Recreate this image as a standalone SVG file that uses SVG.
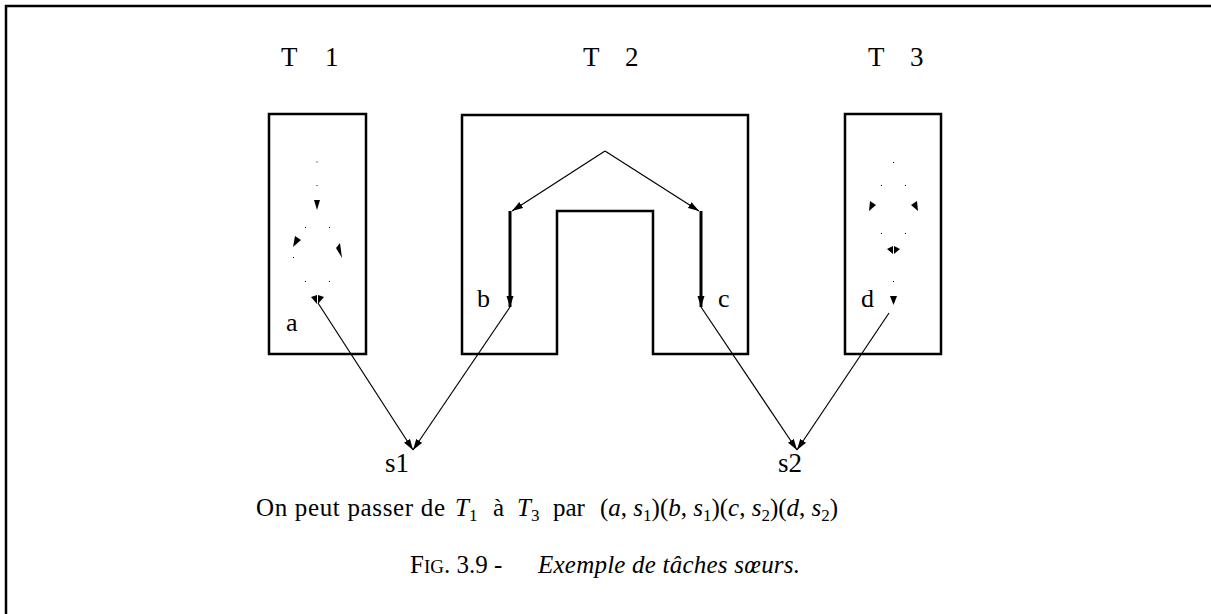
<svg xmlns="http://www.w3.org/2000/svg" width="1211" height="614" viewBox="0 0 1211 614">
<style>
.box{fill:none;stroke:#000;stroke-width:2.5}
.ln{fill:none;stroke:#000;stroke-width:1.2}
.thick{fill:none;stroke:#000;stroke-width:3}
.t{font-family:"Liberation Serif","DejaVu Serif",serif;fill:#000}
.lbl{font-size:26px}
.ttl{font-size:27px}
.cap{font-size:25px}
.sub{font-size:17px}
.it{font-style:italic}
.dot{fill:#000}
.ah{fill:#000}
</style>
<defs>
<marker id="arr" markerUnits="userSpaceOnUse" markerWidth="12" markerHeight="8" refX="11" refY="4" orient="auto">
<path d="M0,0.5 L11,4 L0,7.5 Z" fill="#000"/>
</marker>
</defs>
<rect width="1211" height="614" fill="#fff"/>
<g id="frame">
<path d="M6,614 V6 H1211" fill="none" stroke="#000" stroke-width="2.5"/>
</g>
<g id="titles">
<text class="t ttl" x="281" y="66">T <tspan x="325">1</tspan></text>
<text class="t ttl" x="583" y="66">T <tspan x="625">2</tspan></text>
<text class="t ttl" x="868" y="66">T <tspan x="910">3</tspan></text>
</g>
<g id="T1">
<rect class="box" x="269" y="114" width="97" height="240"/>
<g class="dot">
<rect x="316.5" y="161.5" width="1" height="1"/>
<rect x="316.5" y="185" width="1" height="1"/>
<rect x="305" y="227" width="1" height="1"/>
<rect x="329" y="227" width="1" height="1"/>
<rect x="293" y="257" width="1" height="1"/>
<rect x="305" y="281" width="1" height="1"/>
<rect x="329" y="281" width="1" height="1"/>
</g>
<g class="ah">
<polygon points="314,200 320,200 317,210"/>
<polygon points="295,236 301,240 293,247"/>
<polygon points="336,248 340,243 342,258"/>
<polygon points="311,297 317,295 317,304"/>
<polygon points="324,297 318,295 318,304"/>
</g>
<text class="t lbl" x="286" y="331">a</text>
</g>
<g id="T2">
<path class="box" d="M462,354 V115 H748 V354 H653 V211 H557 V354 Z"/>
<line class="thick" x1="510" y1="211" x2="510" y2="307" marker-end="url(#arr)"/>
<line class="thick" x1="701" y1="211" x2="701" y2="307" marker-end="url(#arr)"/>
<text class="t lbl" x="477" y="307">b</text>
<text class="t lbl" x="718" y="307">c</text>
</g>
<g id="T3">
<rect class="box" x="845" y="114" width="96" height="240"/>
<g class="dot">
<rect x="893" y="162" width="1" height="1"/>
<rect x="881" y="185" width="1" height="1"/>
<rect x="905" y="185" width="1" height="1"/>
<rect x="881" y="233" width="1" height="1"/>
<rect x="905" y="233" width="1" height="1"/>
<rect x="893" y="281" width="1" height="1"/>
</g>
<g class="ah">
<polygon points="870,201 876,205 869,211"/>
<polygon points="917,201 911,205 918,211"/>
<polygon points="887,249 893,246 893,254"/>
<polygon points="900,249 894,246 894,254"/>
<polygon points="890,296 897,296 893.5,305"/>
</g>
<text class="t lbl" x="861" y="307">d</text>
</g>
<g id="s1">
<text class="t ttl" x="385" y="472">s1</text>
</g>
<g id="s2">
<text class="t ttl" x="778" y="472">s2</text>
</g>
<g id="connectors">
<line class="ln" x1="605" y1="151" x2="512" y2="211" marker-end="url(#arr)"/>
<line class="ln" x1="605" y1="151" x2="699" y2="211" marker-end="url(#arr)"/>
<line class="ln" x1="318" y1="303" x2="413" y2="450" marker-end="url(#arr)"/>
<line class="ln" x1="510" y1="307" x2="413" y2="450" marker-end="url(#arr)"/>
<line class="ln" x1="701" y1="307" x2="797" y2="450" marker-end="url(#arr)"/>
<line class="ln" x1="889" y1="313" x2="797" y2="450" marker-end="url(#arr)"/>
</g>
<g id="caption">
<text class="t cap" x="256" y="516" textLength="189" lengthAdjust="spacing">On peut passer de</text>
<text class="t cap" y="516"><tspan class="it" x="455">T</tspan><tspan class="sub" dy="5">1</tspan><tspan x="493" dy="-5">à</tspan><tspan class="it" x="517">T</tspan><tspan class="sub" dy="5">3</tspan><tspan x="553" dy="-5">par</tspan></text>
<text class="t cap" x="600" y="516">(<tspan class="it">a</tspan>, <tspan class="it">s</tspan><tspan class="sub" dy="5">1</tspan><tspan dy="-5">)(</tspan><tspan class="it">b</tspan>, <tspan class="it">s</tspan><tspan class="sub" dy="5">1</tspan><tspan dy="-5">)(</tspan><tspan class="it">c</tspan>, <tspan class="it">s</tspan><tspan class="sub" dy="5">2</tspan><tspan dy="-5">)(</tspan><tspan class="it">d</tspan>, <tspan class="it">s</tspan><tspan class="sub" dy="5">2</tspan><tspan dy="-5">)</tspan></text>
<text class="t cap" x="410" y="573">F<tspan font-size="19">IG</tspan>. 3.9 -</text>
<text class="t cap it" x="538" y="573" textLength="262" lengthAdjust="spacing">Exemple de tâches sœurs.</text>
</g>
</svg>
